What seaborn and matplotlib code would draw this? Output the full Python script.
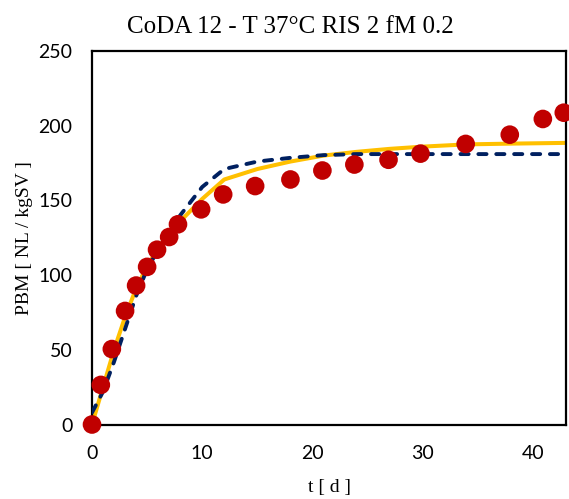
import matplotlib
matplotlib.use("Agg")
import matplotlib.pyplot as plt
import seaborn as sns
import pandas as pd

# Measured data (red points)
t_data = [0, 0.8, 1.8, 3, 4, 5, 5.9, 7, 7.8, 9.9, 11.9, 14.8, 18, 20.9, 23.8, 26.9, 29.8, 33.9, 37.9, 40.9, 42.8]
pbm_data = [0, 26.5, 50.5, 76, 93, 105.5, 117, 125.5, 134, 144, 154, 159.6, 164, 170, 174, 177.2, 181.3, 187.8, 194, 204.5, 208.7]

# Model curves
t_model = [0, 1, 2, 3, 4, 5, 6, 7, 8, 10, 12, 15, 18, 21, 24, 27, 30, 34, 38, 41, 43]
pbm_model_solid = [0, 25, 50, 72, 91, 106, 118, 128, 136, 151, 164, 171, 176, 180, 182.5, 184.5, 186, 187.5, 188, 188.3, 188.5]
pbm_model_dash = [8, 22, 42, 64, 86, 104, 117, 128, 140, 159, 171, 176, 178.5, 180.3, 181, 181, 181, 181, 181, 181, 181]

title = "CoDA 12 - T 37°C RIS 2 fM 0.2"
xlabel = "t [ d ]"
ylabel = "PBM [ NL / kgSV ]"
xticks = [0, 10, 20, 30, 40]
yticks = [0, 50, 100, 150, 200, 250]

sns.set_theme(style="white")
plt.rcParams['font.family'] = ['Lato', 'DejaVu Sans']
plt.rcParams['text.color'] = 'black'
plt.rcParams['axes.labelcolor'] = 'black'

fig = plt.figure(figsize=(5.69, 4.99), dpi=100)
ax = fig.add_axes([92/569, 1-424.5/499, (566-92)/569, (424.5-51)/499])

df_model = pd.DataFrame({"t": t_model, "solid": pbm_model_solid, "dash": pbm_model_dash})
df_data = pd.DataFrame({"t": t_data, "pbm": pbm_data})

sns.lineplot(data=df_model, x="t", y="solid", ax=ax, color="#FFC000", linewidth=2.9, zorder=2)
sns.lineplot(data=df_model, x="t", y="dash", ax=ax, color="#002060", linewidth=2.8, zorder=3)
ax.lines[-1].set_dashes((2.1, 2.5))
ax.lines[-1].set_dash_capstyle("round")
sns.scatterplot(data=df_data, x="t", y="pbm", ax=ax, color="#C00000", s=180, edgecolor="none",
                zorder=4, clip_on=False)

ax.set_xlim(0, 43)
ax.set_ylim(0, 250)
ax.set_xticks(xticks)
ax.set_yticks(yticks)
ax.tick_params(axis="both", labelsize=14, length=0, colors="black")
ax.tick_params(axis="y", pad=14)
ax.tick_params(axis="x", pad=15)
for s in ax.spines.values():
    s.set_color("black")
    s.set_linewidth(1.6)

ax.set_xlabel(xlabel, family="Liberation Serif", fontsize=14, labelpad=12)
ax.set_ylabel(ylabel, family="Liberation Serif", fontsize=14, labelpad=4)
fig.text(290/569, 1-27/499, title, family="Liberation Serif", fontsize=18, ha="center", va="center")

fig.savefig("out.png", dpi=100)
